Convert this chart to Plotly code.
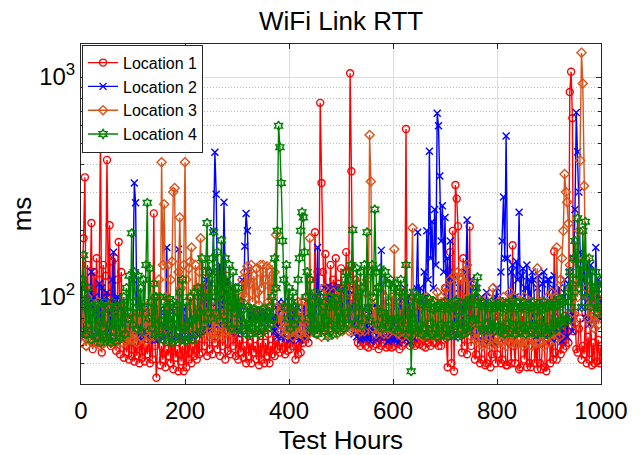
import plotly.graph_objects as go

# Sample hours (every 2.5 test hours, 0..1000)
hours = [i * 2.5 for i in range(401)]

loc1 = [
    90, 120, 185, 350, 60, 140, 75, 110, 217, 58, 130, 95, 150, 62, 120, 540, 56, 140, 80, 125,
    420, 100, 212, 60, 145, 85, 150, 57, 120, 178, 55, 130, 70, 53, 75, 56, 68, 52, 72, 54,
    74, 51, 62, 54, 70, 50, 66, 53, 72, 51, 60, 55, 70, 50, 64, 52, 240, 60, 43, 65,
    70, 49, 60, 52, 68, 48, 58, 54, 72, 50, 62, 47, 66, 53, 58, 46, 70, 51, 60, 46,
    68, 48, 62, 52, 72, 50, 60, 54, 70, 52, 64, 55, 110, 56, 90, 60, 130, 54, 100, 58,
    120, 55, 95, 62, 135, 58, 80, 54, 115, 60, 90, 52, 125, 57, 85, 55, 100, 60, 75, 54,
    80, 52, 64, 56, 72, 53, 60, 50, 75, 54, 62, 50, 72, 56, 60, 52, 70, 49, 62, 52,
    72, 50, 62, 54, 68, 50, 60, 55, 75, 54, 64, 58, 70, 56, 62, 58, 72, 55, 64, 57,
    75, 58, 66, 60, 70, 52, 62, 55, 68, 56, 64, 62, 95, 66, 80, 62, 120, 70, 100, 75,
    197, 80, 130, 75, 763, 330, 130, 85, 157, 72, 110, 90, 140, 78, 120, 95, 150, 80, 115, 75,
    135, 85, 110, 72, 160, 95, 130, 1040, 373, 100, 80, 120, 75, 62, 80, 60, 72, 62, 80, 60,
    82, 59, 70, 62, 78, 60, 66, 61, 80, 58, 70, 60, 76, 62, 68, 59, 82, 60, 70, 59,
    78, 60, 68, 62, 80, 58, 70, 60, 82, 62, 580, 64, 72, 60, 78, 61, 70, 60, 80, 62,
    61, 72, 78, 60, 68, 59, 80, 62, 70, 60, 82, 62, 70, 62, 78, 60, 72, 60, 80, 64,
    110, 65, 48, 130, 160, 50, 200, 46, 323, 280, 210, 90, 120, 56, 150, 60, 100, 55, 85, 209,
    60, 72, 85, 52, 55, 80, 66, 50, 52, 78, 62, 49, 50, 82, 65, 48, 55, 80, 62, 50,
    55, 70, 85, 50, 52, 80, 64, 49, 49, 82, 62, 50, 172, 60, 50, 80, 64, 47, 48, 78,
    82, 52, 62, 48, 78, 50, 48, 66, 85, 50, 60, 47, 80, 50, 47, 62, 82, 48, 46, 65,
    80, 50, 62, 52, 161, 56, 52, 70, 85, 55, 64, 58, 82, 60, 70, 62, 855, 1057, 650, 70,
    85, 58, 56, 72, 80, 52, 60, 55, 85, 50, 66, 52, 82, 49, 62, 50, 80, 51, 64, 50,
    60,
]

loc2 = [
    80, 110, 66, 95, 70, 105, 68, 88, 130, 72, 100, 65, 90, 75, 115, 67, 110, 80, 67, 95,
    105, 70, 88, 66, 120, 160, 66, 92, 100, 68, 85, 70, 85, 64, 78, 66, 82, 68, 75, 66,
    120, 330, 268, 80, 66, 90, 72, 65, 88, 70, 66, 85, 67, 78, 64, 82, 70, 64, 82, 68,
    66, 88, 72, 65, 85, 70, 168, 67, 90, 72, 65, 86, 70, 66, 88, 165, 66, 80, 70, 88,
    65, 90, 72, 67, 95, 75, 66, 100, 78, 68, 105, 80, 70, 110, 85, 70, 120, 90, 72, 115,
    72, 130, 200, 455, 293, 95, 75, 140, 130, 90, 270, 110, 72, 120, 95, 70, 110, 85, 70, 100,
    68, 95, 80, 70, 120, 90, 170, 240, 200, 130, 80, 86, 82, 79, 85, 80, 84, 78, 86, 80,
    84, 79, 86, 80, 83, 78, 85, 80, 82, 70, 90, 66, 95, 75, 66, 88, 95, 65, 80, 70,
    90, 64, 78, 88, 66, 82, 70, 90, 64, 78, 85, 66, 90, 72, 66, 95, 80, 68, 100, 75,
    100, 80, 168, 72, 105, 85, 72, 110, 90, 75, 112, 95, 105, 80, 110, 92, 100, 78, 112, 90,
    105, 85, 110, 95, 100, 80, 108, 90, 75, 95, 68, 85, 66, 80, 90, 64, 75, 88, 65, 80,
    65, 90, 72, 63, 85, 70, 92, 64, 78, 90, 66, 163, 72, 65, 95, 70, 63, 85, 75, 64,
    90, 64, 95, 72, 62, 88, 100, 66, 78, 110, 64, 85, 100, 63, 80, 105, 65, 90, 110, 197,
    70, 110, 85, 95, 130, 100, 200, 120, 460, 150, 220, 110, 250, 140, 685, 600, 355, 180, 260, 130,
    230, 100, 150, 90, 180, 70, 120, 66, 100, 80, 66, 110, 75, 68, 95, 70, 130, 224, 70, 95,
    120, 75, 66, 100, 110, 70, 64, 95, 100, 72, 63, 90, 105, 68, 64, 85, 95, 70, 62, 100,
    110, 70, 66, 130, 180, 285, 150, 540, 150, 95, 90, 130, 140, 85, 100, 145, 120, 243, 95, 125,
    135, 90, 110, 140, 95, 120, 85, 130, 120, 80, 66, 110, 125, 75, 64, 115, 130, 80, 66, 120,
    120, 70, 64, 110, 125, 75, 65, 105, 110, 72, 63, 100, 120, 78, 66, 115, 130, 85, 70, 150,
    250, 690, 458, 300, 160, 90, 120, 150, 80, 140, 100, 75, 140, 90, 110, 75, 168, 95, 120, 80,
    100,
]

loc3 = [
    62, 80, 95, 66, 60, 100, 72, 64, 90, 62, 85, 70, 62, 95, 68, 60, 88, 75, 62, 90,
    63, 85, 70, 62, 90, 66, 61, 82, 72, 64, 88, 68, 62, 82, 70, 63, 85, 66, 64, 80,
    64, 88, 70, 62, 85, 74, 90, 65, 78, 86, 63, 90, 72, 66, 95, 75, 66, 100, 80, 70,
    120, 70, 410, 140, 264, 100, 75, 140, 68, 120, 145, 300, 313, 90, 70, 130, 230, 110, 72, 140,
    410, 120, 72, 135, 145, 168, 90, 70, 140, 110, 72, 130, 185, 95, 72, 110, 85, 66, 105, 75,
    105, 68, 90, 65, 110, 80, 68, 100, 75, 66, 95, 70, 105, 85, 70, 110, 78, 68, 100, 72,
    95, 72, 80, 100, 120, 88, 130, 100, 138, 90, 115, 140, 95, 125, 88, 135, 105, 92, 140, 110,
    140, 90, 120, 138, 95, 130, 92, 140, 110, 130, 192, 90, 75, 85, 70, 90, 78, 68, 88, 72,
    68, 85, 75, 66, 90, 72, 68, 95, 80, 68, 95, 72, 66, 100, 80, 68, 185, 90, 70, 100,
    100, 68, 85, 75, 95, 66, 80, 110, 72, 90, 68, 100, 80, 70, 105, 75, 95, 68, 100, 72,
    100, 70, 85, 110, 75, 95, 70, 105, 80, 70, 112, 85, 72, 115, 90, 70, 110, 78, 70, 105,
    120, 80, 545, 335, 100, 72, 90, 68, 110, 80, 70, 105, 85, 68, 100, 75, 68, 95, 72, 100,
    80, 165, 70, 100, 68, 90, 75, 66, 105, 72, 68, 95, 78, 66, 100, 206, 70, 90, 100, 70,
    68, 95, 75, 66, 90, 72, 100, 68, 85, 95, 70, 66, 90, 75, 105, 68, 80, 100, 70, 95,
    68, 110, 80, 70, 120, 90, 70, 125, 85, 72, 130, 95, 68, 120, 130, 80, 70, 140, 100, 75,
    66, 115, 80, 64, 100, 70, 62, 95, 72, 60, 90, 68, 62, 100, 72, 60, 85, 110, 66, 62,
    61, 95, 70, 63, 80, 100, 66, 60, 90, 72, 105, 62, 68, 100, 75, 61, 85, 66, 95, 62,
    60, 100, 72, 62, 85, 68, 95, 60, 72, 90, 62, 135, 75, 62, 95, 68, 60, 88, 72, 100,
    62, 90, 105, 68, 64, 100, 168, 75, 66, 120, 150, 200, 362, 300, 270, 216, 140, 110, 85, 120,
    75, 150, 100, 200, 418, 1290, 935, 320, 150, 110, 80, 100, 75, 95, 110, 72, 90, 100, 75, 95,
    80,
]

loc4 = [
    70, 120, 155, 90, 68, 110, 75, 95, 64, 85, 90, 70, 66, 92, 78, 62, 88, 72, 95, 66,
    64, 90, 75, 62, 95, 70, 85, 63, 90, 76, 65, 92, 72, 100, 68, 110, 80, 125, 85, 195,
    75, 130, 95, 72, 125, 85, 110, 70, 120, 90, 140, 268, 80, 135, 95, 72, 115, 68, 100, 75,
    66, 100, 78, 64, 95, 70, 88, 63, 98, 75, 62, 95, 80, 64, 92, 70, 105, 64, 120, 72,
    63, 95, 75, 65, 100, 78, 64, 105, 80, 68, 110, 85, 70, 150, 100, 75, 140, 217, 85, 130,
    80, 150, 197, 100, 85, 160, 110, 78, 181, 120, 82, 150, 100, 75, 140, 90, 72, 130, 85, 110,
    72, 110, 80, 95, 70, 88, 76, 68, 90, 75, 68, 86, 72, 88, 70, 80, 86, 68, 82, 72,
    88, 70, 80, 86, 72, 90, 75, 100, 80, 150, 110, 200, 600, 480, 330, 180, 120, 90, 140, 80,
    110, 72, 95, 105, 75, 90, 80, 120, 150, 200, 243, 230, 160, 100, 130, 80, 120, 72, 95, 70,
    105, 75, 68, 95, 100, 72, 85, 70, 95, 78, 66, 90, 100, 75, 68, 92, 98, 72, 85, 70,
    110, 80, 72, 120, 130, 85, 75, 120, 140, 202, 90, 76, 135, 100, 80, 130, 74, 110, 140, 85,
    197, 90, 78, 130, 140, 100, 250, 130, 75, 110, 135, 85, 72, 120, 130, 80, 74, 115, 120, 78,
    72, 110, 115, 80, 70, 105, 120, 78, 72, 100, 140, 85, 68, 95, 46, 80, 105, 72, 70, 98,
    100, 75, 68, 92, 95, 72, 66, 90, 98, 76, 68, 88, 95, 72, 66, 90, 92, 75, 68, 88,
    95, 72, 66, 88, 92, 75, 68, 90, 96, 74, 66, 86, 94, 76, 68, 90, 95, 72, 70, 92,
    98, 78, 80, 100, 110, 123, 75, 92, 95, 72, 70, 90, 92, 76, 72, 88, 95, 74, 70, 90,
    92, 74, 70, 90, 95, 72, 68, 88, 93, 76, 70, 90, 96, 74, 68, 88, 94, 75, 70, 90,
    95, 72, 68, 88, 92, 75, 70, 90, 95, 74, 68, 86, 93, 76, 70, 88, 95, 72, 68, 90,
    92, 74, 70, 90, 95, 76, 72, 92, 98, 78, 75, 95, 100, 80, 78, 110, 130, 90, 100, 150,
    180, 120, 228, 110, 140, 90, 200, 130, 220, 100, 120, 150, 90, 130, 95, 110, 130, 85, 90, 120,
    110,
]

series_names = ["Location 1", "Location 2", "Location 3", "Location 4"]
series_values = [loc1, loc2, loc3, loc4]
colors = ["#FF0000", "#0000FF", "#D95319", "#008000"]
symbols = ["circle-open", "x-thin-open", "diamond-open", "hexagram-open"]

x_ticks = [0, 200, 400, 600, 800, 1000]
y_ticks = [100, 1000]
y_ticktext = ["10<sup>2</sup>", "10<sup>3</sup>"]
y_minor = [50, 60, 70, 80, 90, 200, 300, 400, 500, 600, 700, 800, 900]

FONT = "Liberation Sans, Arial, Helvetica, sans-serif"
AX = "#262626"

fig = go.Figure()
for name, vals, col, sym in zip(series_names, series_values, colors, symbols):
    fig.add_trace(go.Scatter(
        x=hours, y=vals, name=name, mode="lines+markers",
        line=dict(color=col, width=1.4),
        marker=dict(symbol=sym, size=7, color=col, line=dict(width=1.4, color=col)),
        hoverinfo="skip",
    ))

fig.update_layout(
    width=640, height=455,
    margin=dict(l=81, r=39, t=44, b=71),
    paper_bgcolor="white", plot_bgcolor="white",
    font=dict(family=FONT, color=AX),
    title=dict(text="WiFi Link RTT", x=0.533, xanchor="center", y=0.955,
               yanchor="middle", yref="container",
               font=dict(size=26, color="#000000", family=FONT)),
    showlegend=True,
    legend=dict(x=0.002, y=0.998, xanchor="left", yanchor="top",
                bgcolor="white", bordercolor=AX, borderwidth=1,
                font=dict(size=16, color="#000000", family=FONT),
                itemwidth=30, tracegroupgap=0),
)

fig.update_xaxes(
    range=[0, 1000], tickvals=x_ticks, ticks="inside", ticklen=5,
    tickcolor=AX, showline=True, linecolor=AX, linewidth=1, mirror="ticks",
    showgrid=True, gridcolor="#DEDEDE", gridwidth=1, zeroline=False,
    automargin=False, ticklabelstandoff=5,
    tickfont=dict(size=24, color="#000000", family=FONT),
    title=dict(text="Test Hours", font=dict(size=26, color="#000000", family=FONT), standoff=10),
)

fig.update_yaxes(
    type="log", range=[1.605, 3.150], tickmode="array", tickvals=y_ticks,
    ticktext=y_ticktext, ticks="inside", ticklen=5, tickcolor=AX,
    showline=True, linecolor=AX, linewidth=1, mirror="ticks",
    showgrid=True, gridcolor="#DEDEDE", gridwidth=1, zeroline=False,
    automargin=False,
    tickfont=dict(size=24, color="#000000", family=FONT),
    minor=dict(tickmode="array", tickvals=y_minor, ticks="inside", ticklen=3,
               tickcolor=AX, showgrid=True, gridcolor="#BDBDBD", griddash="1px,2px", gridwidth=1),
    title=dict(text="ms", font=dict(size=26, color="#000000", family=FONT), standoff=0),
)

fig.write_html("out.html")
